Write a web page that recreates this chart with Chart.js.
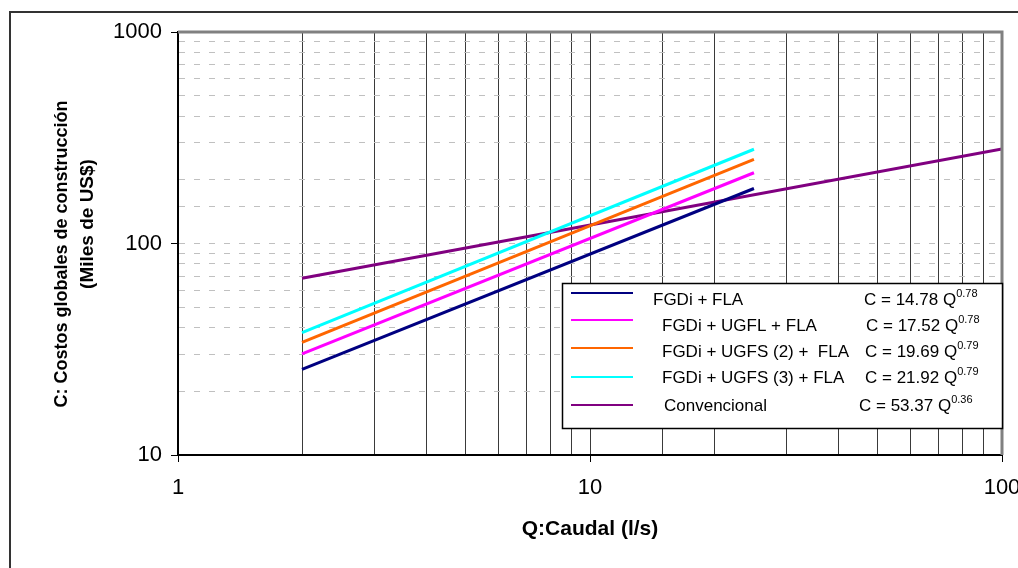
<!DOCTYPE html>
<html>
<head>
<meta charset="utf-8">
<script src="https://cdn.jsdelivr.net/npm/chart.js@4/dist/chart.umd.min.js"></script>
<style>
  html, body { margin: 0; padding: 0; background: #fff; }
  #wrap { position: relative; width: 1018px; height: 568px; }
</style>
</head>
<body>
<div id="wrap"><canvas id="costChart" width="1018" height="568"></canvas></div>
<script>
// Costos globales de construcción vs caudal (log-log)
const seriesNames = [
    'FGDi + FLA',
    'FGDi + UGFL + FLA',
    'FGDi + UGFS (2) +  FLA',
    'FGDi + UGFS (3) + FLA',
    'Convencional'
];
const equations = ['C = 14.78 Q', 'C = 17.52 Q', 'C = 19.69 Q', 'C = 21.92 Q', 'C = 53.37 Q'];
const exponents = ['0.78', '0.78', '0.79', '0.79', '0.36'];
const seriesColors = ['#000080', '#ff00ff', '#ff6600', '#00ffff', '#800080'];

// Q (l/s) endpoints of each straight line on the log-log plot
const qFiltros = [2, 25];
const qConvencional = [2, 100];

// C (miles de US$) read at those endpoints
const costFGDiFLA = [25.4, 182];
const costUGFL = [30.1, 216];
const costUGFS2 = [34.1, 250];
const costUGFS3 = [37.9, 279];
const costConvencional = [68.5, 280];

const xTickLabels = [1, 10, 100];
const yTickLabels = [10, 100, 1000];

const qSets = [qFiltros, qFiltros, qFiltros, qFiltros, qConvencional];
const costSets = [costFGDiFLA, costUGFL, costUGFS2, costUGFS3, costConvencional];

const FONT = "'Liberation Sans', Arial, sans-serif";
Chart.defaults.font.family = FONT;
Chart.defaults.color = '#000';

function isMajor(v) {
    const l = Math.log10(v);
    return Math.abs(l - Math.round(l)) < 1e-9;
}

const datasets = seriesNames.map((name, i) => ({
    label: name,
    data: qSets[i].map((q, j) => ({ x: q, y: costSets[i][j] })),
    borderColor: seriesColors[i],
    backgroundColor: seriesColors[i],
    borderWidth: 3,
    pointRadius: 0,
    tension: 0,
    fill: false
}));

// extra drawing: outer frame, plot border, y title, legend box
const extras = {
    id: 'extras',
    beforeDraw(chart) {
        const c = chart.ctx;
        c.save();
        c.fillStyle = '#fff';
        c.fillRect(0, 0, chart.width, chart.height);
        c.restore();
    },
    afterDraw(chart) {
        const c = chart.ctx;
        const a = chart.chartArea;
        c.save();
        // outer frame (left and top only visible)
        c.strokeStyle = '#333';
        c.lineWidth = 2;
        c.beginPath();
        c.moveTo(10, 568);
        c.lineTo(10, 12);
        c.lineTo(1018, 12);
        c.stroke();

        // plot area top / right border
        c.strokeStyle = '#808080';
        c.lineWidth = 3;
        c.beginPath();
        c.moveTo(a.left, a.top);
        c.lineTo(a.right, a.top);
        c.lineTo(a.right, a.bottom);
        c.stroke();

        // y axis title, two lines rotated
        c.fillStyle = '#000';
        c.textAlign = 'center';
        c.textBaseline = 'middle';
        c.translate(62, 0);
        c.rotate(-Math.PI / 2);
        c.font = 'bold 18px ' + FONT;
        c.fillText('C: Costos globales de construcción', -254, 0);
        c.font = 'bold 19px ' + FONT;
        c.fillText('(Miles de US$)', -224, 26);
        c.setTransform(1, 0, 0, 1, 0, 0);

        // legend box
        const box = { left: 562.5, top: 283.5, right: 1002.5, bottom: 428.5 };
        c.fillStyle = '#fff';
        c.fillRect(box.left, box.top, box.right - box.left, box.bottom - box.top);
        c.strokeStyle = '#000';
        c.lineWidth = 1.5;
        c.strokeRect(box.left, box.top, box.right - box.left, box.bottom - box.top);

        const lineY = [293, 320, 348, 377, 405];
        const baseY = [305, 331, 357, 383, 411];
        const labelX = [653, 662, 662, 662, 664];
        const eqX = [864, 866, 865, 865, 859];
        c.textAlign = 'left';
        c.textBaseline = 'alphabetic';
        chart.data.datasets.forEach((ds, i) => {
            c.strokeStyle = ds.borderColor;
            c.lineWidth = 2;
            c.beginPath();
            c.moveTo(571, lineY[i]);
            c.lineTo(633, lineY[i]);
            c.stroke();
            c.fillStyle = '#000';
            c.font = '17px ' + FONT;
            c.fillText(ds.label, labelX[i], baseY[i]);
            c.fillText(equations[i], eqX[i], baseY[i]);
            const w = c.measureText(equations[i]).width;
            c.font = '11px ' + FONT;
            c.fillText(exponents[i], eqX[i] + w, baseY[i] - 8);
        });
        c.restore();
    }
};

new Chart(document.getElementById('costChart'), {
    type: 'line',
    data: { datasets: datasets },
    plugins: [extras],
    options: {
        responsive: false,
        animation: false,
        devicePixelRatio: 1,
        layout: { padding: { top: 32, right: 16, left: 0, bottom: 0 } },
        plugins: {
            legend: { display: false },
            tooltip: { enabled: false }
        },
        scales: {
            x: {
                type: 'logarithmic',
                min: 1,
                max: 100,
                afterFit(scale) {
                    scale.height = 113;
                    scale.paddingLeft = 0;
                    scale.paddingRight = 0;
                },
                border: { color: '#000', width: 2 },
                grid: {
                    color: (ctx) => (ctx.tick && (ctx.tick.value === 1 || ctx.tick.value === 100)) ? 'rgba(0,0,0,0)' : '#3a3a3a',
                    lineWidth: 1,
                    tickLength: 7,
                    tickColor: (ctx) => (ctx.tick && isMajor(ctx.tick.value)) ? '#000' : 'rgba(0,0,0,0)',
                    tickBorderDash: []
                },
                ticks: {
                    autoSkip: false,
                    maxRotation: 0,
                    padding: 13,
                    font: { size: 22 },
                    color: '#000',
                    callback: (v) => xTickLabels.includes(v) ? String(v) : ''
                },
                title: {
                    display: true,
                    text: 'Q:Caudal (l/s)',
                    font: { size: 21, weight: 'bold' },
                    color: '#000',
                    padding: { top: 0, bottom: 26 }
                }
            },
            y: {
                type: 'logarithmic',
                min: 10,
                max: 1000,
                afterFit(scale) {
                    scale.width = 178;
                },
                border: { color: '#000', width: 2, dash: [6, 9] },
                grid: {
                    color: (ctx) => (ctx.tick && (ctx.tick.value === 10 || ctx.tick.value === 1000)) ? 'rgba(0,0,0,0)' : '#c0c0c0',
                    lineWidth: 1,
                    tickLength: 7,
                    tickColor: (ctx) => (ctx.tick && isMajor(ctx.tick.value)) ? '#000' : 'rgba(0,0,0,0)',
                    tickBorderDash: []
                },
                ticks: {
                    autoSkip: false,
                    padding: 9,
                    font: { size: 22 },
                    color: '#000',
                    callback: (v) => yTickLabels.includes(v) ? String(v) : ''
                }
            }
        }
    }
});
</script>
</body>
</html>
